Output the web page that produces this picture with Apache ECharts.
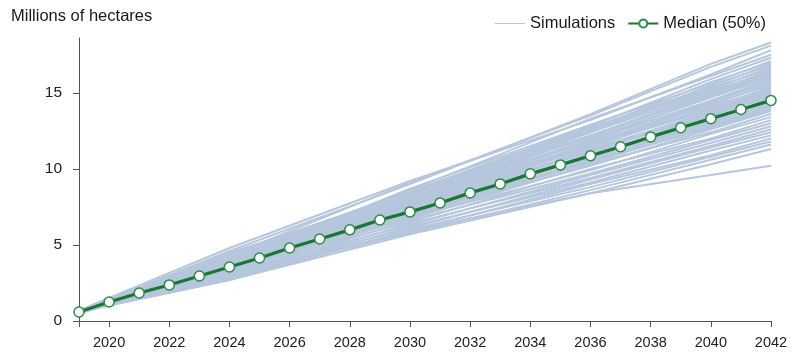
<!DOCTYPE html>
<html>
<head>
<meta charset="utf-8">
<script src="https://cdn.jsdelivr.net/npm/echarts@6/dist/echarts.min.js"></script>
<style>
html, body { margin: 0; padding: 0; background: #fff; }
#chart { width: 792px; height: 356px; }
</style>
</head>
<body>
<div id="chart"></div>
<script>
const simYears = [2019, 2024, 2030, 2036, 2040, 2042]
// one row per simulated path (millions of hectares)
const simulations = [
  [0.6, 4.6, 9.0, 13.6, 16.9, 18.3],
  [0.6, 4.3, 9.1, 13.5, 16.7, 18.1],
  [0.7, 4.8, 9.2, 13.2, 16.2, 17.8],
  [0.6, 4.1, 8.6, 13.3, 16.1, 17.5],
  [0.6, 4.4, 8.5, 12.8, 15.9, 17.3],
  [0.5, 3.9, 8.7, 12.9, 15.6, 17.1],
  [0.6, 4.3, 8.3, 12.6, 15.7, 17.0],
  [0.6, 4.0, 8.5, 12.7, 15.4, 16.9],
  [0.7, 4.5, 8.2, 12.4, 15.5, 16.8],
  [0.6, 3.8, 8.4, 12.6, 15.2, 16.7],
  [0.6, 4.2, 8.1, 12.5, 15.3, 16.6],
  [0.5, 3.9, 8.3, 12.2, 15.0, 16.5],
  [0.6, 4.1, 8.0, 12.4, 15.1, 16.4],
  [0.6, 3.7, 8.2, 12.1, 14.9, 16.3],
  [0.6, 4.0, 7.9, 12.2, 14.8, 16.2],
  [0.6, 3.8, 8.1, 11.9, 14.7, 16.1],
  [0.7, 4.1, 7.8, 12.0, 14.7, 16.0],
  [0.6, 3.6, 8.0, 11.8, 14.5, 15.9],
  [0.6, 3.9, 7.7, 11.9, 14.4, 15.8],
  [0.6, 3.7, 7.9, 11.6, 14.4, 15.7],
  [0.6, 4.0, 7.6, 11.7, 14.2, 15.6],
  [0.5, 3.5, 7.8, 11.5, 14.3, 15.5],
  [0.6, 3.8, 7.5, 11.6, 14.0, 15.4],
  [0.6, 3.6, 7.7, 11.4, 14.1, 15.3],
  [0.6, 3.9, 7.4, 11.5, 13.9, 15.2],
  [0.6, 3.4, 7.6, 11.2, 13.8, 15.1],
  [0.6, 3.7, 7.3, 11.3, 13.7, 15.0],
  [0.6, 3.5, 7.5, 11.1, 13.6, 14.9],
  [0.7, 3.8, 7.2, 11.2, 13.5, 14.8],
  [0.6, 3.4, 7.4, 10.9, 13.5, 14.7],
  [0.6, 3.6, 7.1, 11.0, 13.3, 14.6],
  [0.6, 3.3, 7.3, 10.7, 13.2, 14.4],
  [0.6, 3.7, 7.0, 10.8, 13.0, 14.3],
  [0.6, 3.4, 7.2, 10.5, 13.1, 14.2],
  [0.6, 3.6, 6.9, 10.6, 12.9, 14.1],
  [0.5, 3.2, 7.1, 10.4, 12.8, 14.0],
  [0.6, 3.5, 6.8, 10.5, 12.7, 13.9],
  [0.6, 3.3, 7.0, 10.2, 12.6, 13.8],
  [0.6, 3.5, 6.7, 10.3, 12.4, 13.6],
  [0.6, 3.1, 6.8, 9.9, 12.3, 13.4],
  [0.6, 3.4, 6.5, 10.0, 12.0, 13.2],
  [0.6, 3.0, 6.6, 9.7, 11.9, 13.0],
  [0.6, 3.2, 6.3, 9.6, 11.7, 12.8],
  [0.6, 2.9, 6.4, 9.4, 11.5, 12.6],
  [0.6, 3.1, 6.1, 9.3, 11.4, 12.4],
  [0.6, 2.8, 6.2, 9.1, 11.2, 12.2],
  [0.6, 3.0, 5.9, 9.0, 10.9, 12.0],
  [0.6, 2.7, 6.0, 8.8, 10.8, 11.8],
  [0.6, 2.9, 5.8, 8.6, 10.6, 11.6],
  [0.6, 2.8, 5.9, 8.4, 10.3, 11.3],
  [0.6, 2.7, 5.7, 8.4, 9.6, 10.2]
]

const medianYears = [2019, 2020, 2021, 2022, 2023, 2024, 2025, 2026, 2027, 2028, 2029, 2030,
  2031, 2032, 2033, 2034, 2035, 2036, 2037, 2038, 2039, 2040, 2041, 2042]
const median = [0.59, 1.25, 1.84, 2.37, 2.96, 3.55, 4.14, 4.8, 5.39, 5.99, 6.64, 7.17,
  7.76, 8.42, 9.01, 9.67, 10.26, 10.86, 11.45, 12.1, 12.7, 13.3, 13.9, 14.5]

const xTickLabels = [2020, 2022, 2024, 2026, 2028, 2030, 2032, 2034, 2036, 2038, 2040, 2042]
const yTickLabels = [0, 5, 10, 15]

const font = "'Liberation Sans', Arial, sans-serif"
const chart = echarts.init(document.getElementById('chart'))

let series = simulations.map(row => ({
  name: 'Simulations',
  type: 'line',
  symbol: 'none',
  silent: true,
  z: 1,
  lineStyle: { color: '#b5c6dd', width: 2 },
  data: row.map((v, i) => [simYears[i], v])
}))

series.push({
  name: 'Median (50%)',
  type: 'line',
  symbol: 'circle',
  symbolSize: 10,
  showSymbol: true,
  z: 5,
  lineStyle: { color: '#1a7634', width: 3.2 },
  itemStyle: { color: '#ffffff', borderColor: '#2e8b47', borderWidth: 1.5 },
  data: median.map((v, i) => [medianYears[i], v])
})

const option = {
  animation: false,
  backgroundColor: '#fff',
  title: {
    text: 'Millions of hectares',
    left: 6,
    top: 3,
    textStyle: { fontFamily: font, fontSize: 16.5, fontWeight: 'normal', color: '#1a1a1a' }
  },
  legend: {
    right: 21,
    top: 10,
    itemWidth: 30,
    itemHeight: 10,
    itemGap: 12,
    textStyle: { fontFamily: font, fontSize: 16.5, color: '#1a1a1a' },
    data: [
      { name: 'Simulations', icon: 'path://M0,4.5L30,4.5L30,5.5L0,5.5Z', itemStyle: { color: '#b5c6dd' } },
      { name: 'Median (50%)' }
    ]
  },
  grid: { left: 79, right: 21, top: 38, bottom: 35 },
  xAxis: {
    type: 'value',
    min: 2019,
    max: 2042,
    splitLine: { show: false },
    axisLine: { lineStyle: { color: '#555', width: 1 } },
    axisTick: { show: true, length: 6, lineStyle: { color: '#555' }, customValues: [2019].concat(xTickLabels) },
    axisLabel: {
      customValues: xTickLabels,
      formatter: v => String(v),
      margin: 14,
      fontFamily: font,
      fontSize: 14.5,
      color: '#222'
    }
  },
  yAxis: {
    type: 'value',
    min: 0,
    max: 18.6,
    splitLine: { show: false },
    axisLine: { show: true, lineStyle: { color: '#555', width: 1 } },
    axisTick: { show: true, length: 6, lineStyle: { color: '#555' }, customValues: yTickLabels },
    axisLabel: {
      customValues: yTickLabels,
      margin: 17,
      fontFamily: font,
      fontSize: 15.5,
      color: '#222'
    }
  },
  series: series
}

chart.setOption(option)
</script>
</body>
</html>
